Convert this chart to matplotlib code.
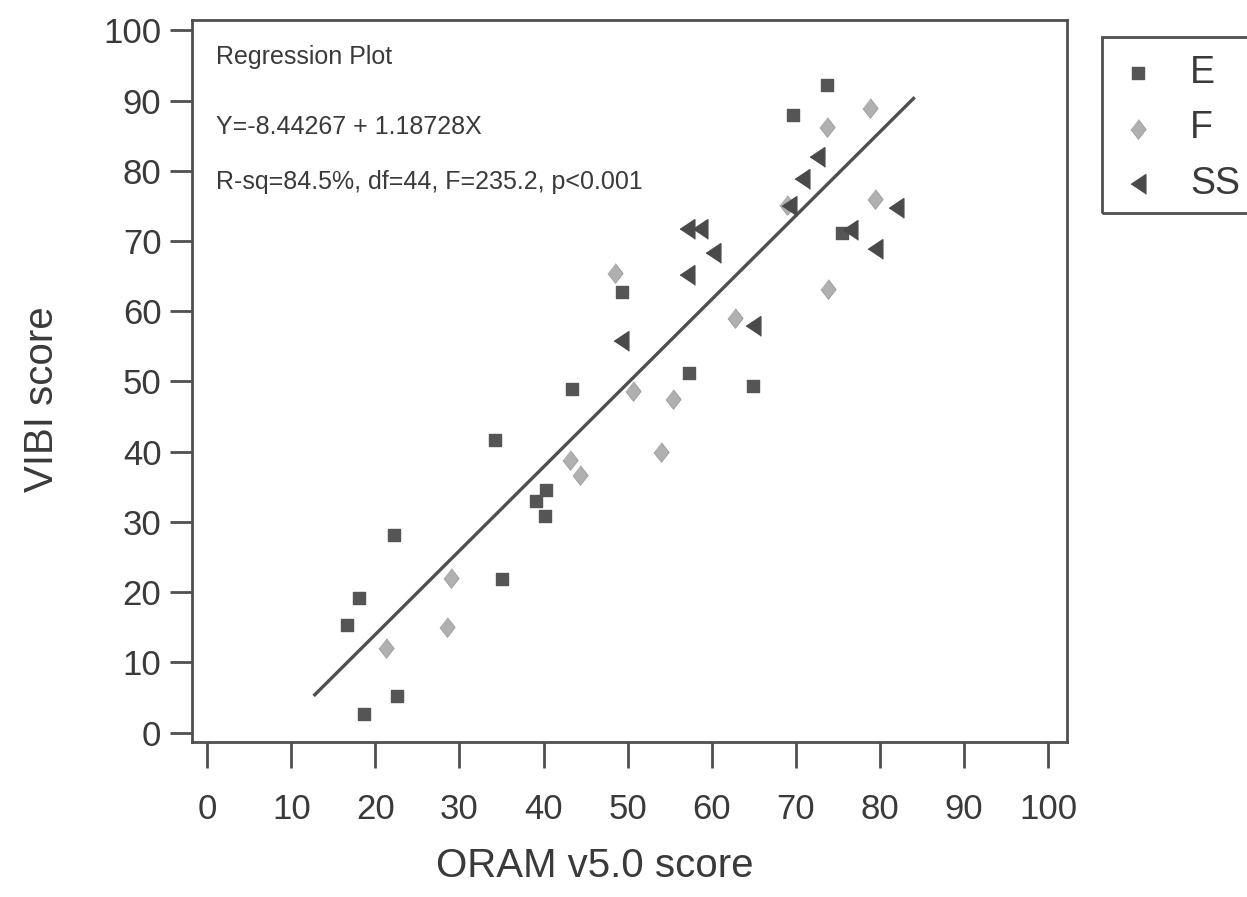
import matplotlib
matplotlib.use("Agg")
import matplotlib.pyplot as plt
from matplotlib.patches import Rectangle

plt.rcParams['font.family'] = ['Liberation Sans', 'DejaVu Sans']

# data
e_x = [16.6, 18.0, 18.6, 22.2, 22.6, 34.2, 35.1, 39.1, 40.3, 40.2, 43.4, 49.3, 57.3, 64.9, 69.7, 73.7, 75.5]
e_y = [15.4, 19.2, 2.6, 28.2, 5.2, 41.7, 21.9, 33.0, 34.6, 30.9, 48.9, 62.7, 51.2, 49.4, 88.0, 92.2, 71.2]

f_x = [21.3, 28.5, 29.0, 43.2, 44.3, 48.5, 50.6, 55.4, 54.0, 62.8, 69.0, 73.7, 73.8, 78.8, 79.4]
f_y = [12.0, 15.1, 22.0, 38.8, 36.7, 65.5, 48.6, 47.5, 39.9, 59.1, 75.1, 86.2, 63.2, 88.9, 76.0]

ss_x = [49.2, 57.1, 57.1, 58.6, 60.1, 64.9, 69.2, 70.7, 72.5, 76.5, 79.4, 81.9]
ss_y = [55.7, 65.2, 71.7, 71.7, 68.3, 57.9, 75.0, 78.8, 82.0, 71.6, 68.8, 74.7]

# fitted line, end points as drawn
line_x = [12.8, 84.0]
line_y = [5.4, 90.3]

ticks = [0, 10, 20, 30, 40, 50, 60, 70, 80, 90, 100]
notes = ['Regression Plot',
         'Y=-8.44267 + 1.18728X',
         'R-sq=84.5%, df=44, F=235.2, p<0.001']

dark = '#4f4f4f'
text_c = '#3a3a3a'

diamond = [(0, 1), (0.78, 0), (0, -1), (-0.78, 0)]
left_tri = [(-0.75, 0), (0.75, 1), (0.75, -1)]

fig = plt.figure(figsize=(12.47, 8.97), dpi=100)
ax = fig.add_axes([0.154, 0.173, 0.702, 0.805])

ax.plot(line_x, line_y, color=dark, lw=2.4, zorder=2)
ax.scatter(e_x, e_y, marker='s', s=85, color='#555555', label='E', zorder=3)
ax.scatter(f_x, f_y, marker=diamond, s=200, color='#b0b0b0', edgecolor='#9a9a9a', lw=0.6, label='F', zorder=3)
ax.scatter(ss_x, ss_y, marker=left_tri, s=200, color='#4a4a4a', label='SS', zorder=3)

ax.set_xlim(-1.8, 102.3)
ax.set_ylim(-1.3, 101.5)
ax.set_xticks(ticks)
ax.set_yticks(ticks)
ax.tick_params(axis='y', direction='out', length=16, width=2, color=dark,
               labelsize=25, labelcolor=text_c, pad=6)
ax.tick_params(axis='x', direction='out', length=19, width=2, color=dark,
               labelsize=25, labelcolor=text_c, pad=18)
for sp in ax.spines.values():
    sp.set_color(dark)
    sp.set_linewidth(2)

ax.set_xlabel('ORAM v5.0 score', fontsize=29, color=text_c)
ax.set_ylabel('VIBI score', fontsize=29, color=text_c)
ax.xaxis.set_label_coords(0.46, -0.145)
ax.yaxis.set_label_coords(-0.15, 0.474)

for ty, s in zip([96.2, 86.3, 78.4], notes):
    ax.text(1.0, ty, s, fontsize=18, color=text_c, va='center', ha='left')

leg = fig.legend(loc='upper left', bbox_to_anchor=(1119 / 1247, 1 - 55 / 897),
                 frameon=False, fontsize=27, handlelength=1.0, handletextpad=0.9,
                 labelspacing=0.52, borderpad=0, borderaxespad=0)
for t in leg.get_texts():
    t.set_color(text_c)

fig.patches.append(Rectangle((1102 / 1247, 1 - 213 / 897), 0.2, 176 / 897,
                             transform=fig.transFigure, fill=False,
                             edgecolor=dark, lw=2, clip_on=False))

fig.savefig('out.png', dpi=100)
